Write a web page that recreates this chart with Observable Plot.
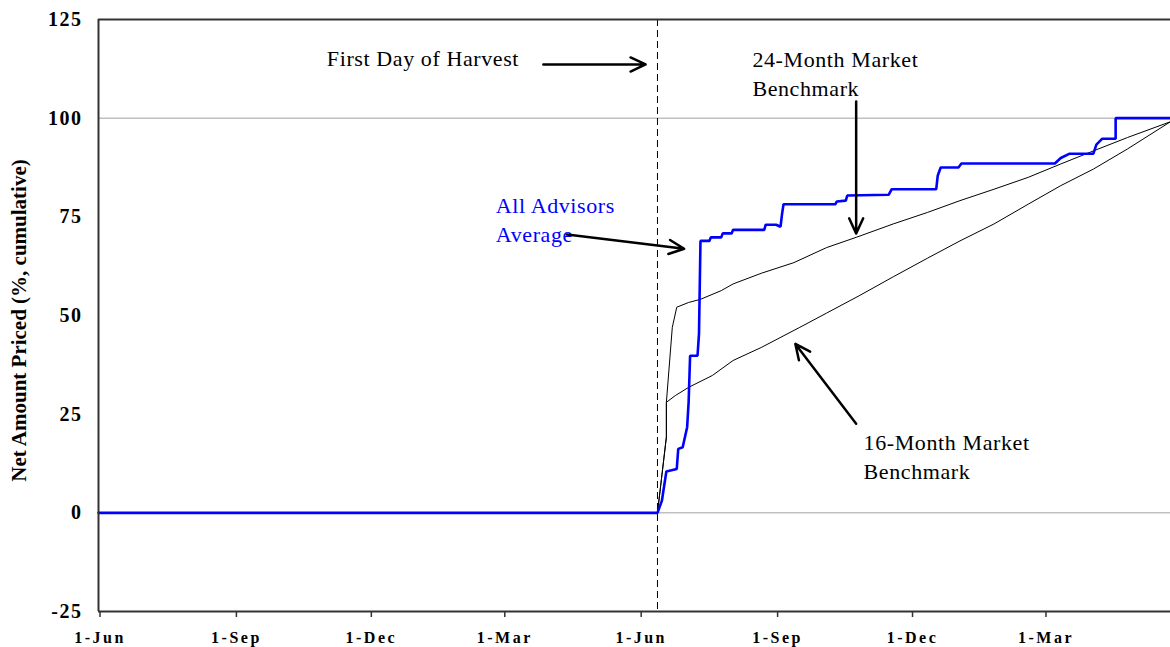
<!DOCTYPE html>
<html>
<head>
<meta charset="utf-8">
<script src="https://cdn.jsdelivr.net/npm/d3@7"></script>
<script src="https://cdn.jsdelivr.net/npm/@observablehq/plot@0.6"></script>
<style>
  body { margin: 0; background: #fff; }
  #chart svg { display: block; }
</style>
</head>
<body>
<div id="chart"></div>
<script>
// ---- Data ----
const startDate = "2000-06-01";
const endDate = "2002-05-25";
const harvestDate = "2001-06-13";

const tickDates = ["2000-06-01", "2000-09-01", "2000-12-01", "2001-03-01", "2001-06-01", "2001-09-01", "2001-12-01", "2002-03-01"];
const tickLabels = ["1-Jun", "1-Sep", "1-Dec", "1-Mar", "1-Jun", "1-Sep", "1-Dec", "1-Mar"];
const yTicks = [-25, 0, 25, 50, 75, 100, 125];
const yTickLabels = ["-25", "0", "25", "50", "75", "100", "125"];

const advisorDates = ["2000-06-01", "2001-06-13", "2001-06-16", "2001-06-17", "2001-06-19", "2001-06-26", "2001-06-27", "2001-06-30", "2001-07-03", "2001-07-04", "2001-07-05", "2001-07-10", "2001-07-11", "2001-07-12", "2001-07-18", "2001-07-19", "2001-07-26", "2001-07-27", "2001-08-02", "2001-08-03", "2001-08-24", "2001-08-25", "2001-09-01", "2001-09-04", "2001-09-05", "2001-09-06", "2001-10-11", "2001-10-12", "2001-10-18", "2001-10-19", "2001-11-16", "2001-11-18", "2001-12-18", "2001-12-19", "2001-12-21", "2002-01-02", "2002-01-04", "2002-03-08", "2002-03-12", "2002-03-18", "2002-04-03", "2002-04-05", "2002-04-09", "2002-04-18", "2002-04-18", "2002-05-25"];
const advisorValues = [0, 0, 3.1, 5.6, 10.5, 11.1, 16.2, 16.6, 21.7, 28.0, 39.8, 39.8, 45.4, 68.9, 68.9, 69.8, 69.8, 70.8, 70.8, 71.7, 71.7, 73.0, 73.0, 72.5, 75.7, 78.2, 78.2, 78.9, 79.1, 80.4, 80.6, 82.0, 82.0, 85.4, 87.5, 87.5, 88.5, 88.5, 89.9, 91.0, 91.0, 93.3, 94.8, 94.8, 100, 100];

const bench24Dates = ["2000-06-01", "2001-06-13", "2001-06-19", "2001-06-19", "2001-06-23", "2001-06-26", "2001-07-04", "2001-07-12", "2001-07-26", "2001-08-03", "2001-08-22", "2001-09-13", "2001-10-05", "2001-10-25", "2001-11-19", "2001-12-12", "2002-01-03", "2002-01-26", "2002-02-18", "2002-03-12", "2002-04-03", "2002-04-26", "2002-05-25"];
const bench24Values = [0, 0, 19.2, 28.0, 47.0, 52.1, 53.3, 54.1, 56.3, 58.0, 60.7, 63.4, 67.2, 69.8, 73.2, 76.1, 79.1, 82.0, 85.0, 88.4, 91.7, 95.1, 99.1];

const bench16Dates = ["2000-06-01", "2001-06-13", "2001-06-19", "2001-06-19", "2001-06-25", "2001-07-04", "2001-07-20", "2001-08-03", "2001-08-22", "2001-09-17", "2001-10-05", "2001-10-27", "2001-11-19", "2001-12-12", "2002-01-03", "2002-01-26", "2002-02-18", "2002-03-12", "2002-04-03", "2002-04-26", "2002-05-25"];
const bench16Values = [0, 0, 19.2, 28.0, 29.7, 31.8, 34.8, 38.6, 41.9, 47.0, 50.6, 55.0, 59.8, 64.5, 68.9, 73.2, 78.2, 82.9, 87.1, 92.2, 99.1];

const noteTexts = ["First Day of Harvest", "24-Month Market\nBenchmark", "All Advisors\nAverage", "16-Month Market\nBenchmark"];
const noteDates = ["2000-11-02", "2001-08-16", "2001-02-24", "2001-10-30"];
const noteValues = [118.3, 118.0, 81.0, 21.0];
const noteColors = ["#000000", "#000000", "#0000ff", "#000000"];

const arrowFromDates = ["2001-03-28", "2001-10-25", "2001-04-13", "2001-10-25"];
const arrowFromValues = [113.6, 104.2, 70.5, 22.6];
const arrowToDates = ["2001-06-05", "2001-10-25", "2001-07-01", "2001-09-14"];
const arrowToValues = [113.6, 70.8, 66.9, 42.8];

const yTitle = "Net Amount Priced (%, cumulative)";

// ---- Build tables ----
const parse = d3.utcParse("%Y-%m-%d");
const rows = (dates, values) => dates.map((d, i) => ({date: parse(d), value: values[i]}));
const advisors = rows(advisorDates, advisorValues);
const bench24 = rows(bench24Dates, bench24Values);
const bench16 = rows(bench16Dates, bench16Values);
const notes = noteTexts.map((t, i) => ({text: t, date: parse(noteDates[i]), value: noteValues[i], color: noteColors[i]}));
const arrows = arrowFromDates.map((d, i) => ({x1: parse(d), y1: arrowFromValues[i], x2: parse(arrowToDates[i]), y2: arrowToValues[i]}));
const labelMap = new Map(tickDates.map((d, i) => [+parse(d), tickLabels[i]]));
const yLabelMap = new Map(yTicks.map((v, i) => [v, yTickLabels[i]]));

const serif = "'Liberation Serif', 'Times New Roman', Times, serif";
const axisColor = "#333333";

const chart = Plot.plot({
  width: 1170,
  height: 647,
  marginLeft: 98,
  marginRight: 0,
  marginTop: 19,
  marginBottom: 36,
  style: {fontFamily: serif, background: "#ffffff", color: "#000000", overflow: "visible"},
  x: {type: "utc", domain: [parse(startDate), parse(endDate)]},
  y: {domain: [-25, 125]},
  marks: [
    Plot.ruleY([0, 100], {stroke: "#a0a0a0", strokeWidth: 1}),
    Plot.ruleX([parse(harvestDate)], {stroke: "#000000", strokeWidth: 1, strokeDasharray: "7,4"}),
    Plot.line(bench16, {x: "date", y: "value", stroke: "#000000", strokeWidth: 1}),
    Plot.line(bench24, {x: "date", y: "value", stroke: "#000000", strokeWidth: 1}),
    Plot.line(advisors, {x: "date", y: "value", stroke: "#0000ff", strokeWidth: 2.6, strokeLinejoin: "miter"}),
    Plot.ruleX([parse(startDate)], {stroke: axisColor, strokeWidth: 2}),
    Plot.ruleY([125, -25], {stroke: axisColor, strokeWidth: 2}),
    Plot.axisX(tickDates.map(parse), {
      tickSize: 6, tickPadding: 14, stroke: axisColor, strokeWidth: 1.5,
      tickFormat: d => labelMap.get(+d), fontSize: 16, fontWeight: "bold", dx: 1.5, label: null
    }),
    Plot.axisY(yTicks, {
      tickSize: 0, tickPadding: 16, fontSize: 20, fontWeight: "bold", label: null,
      tickFormat: v => yLabelMap.get(v)
    }),
    Plot.text([yTitle], {
      frameAnchor: "left", dx: -79, dy: 5, rotate: -90, text: d => d,
      fontSize: 21, fontWeight: "bold", textAnchor: "middle", lineAnchor: "middle"
    }),
    Plot.text(notes, {
      x: "date", y: "value", text: "text", fill: "color",
      textAnchor: "start", lineAnchor: "top", fontSize: 22, lineHeight: 1.3
    }),
    Plot.arrow(arrows, {
      x1: "x1", y1: "y1", x2: "x2", y2: "y2",
      stroke: "#000000", strokeWidth: 2.5, headLength: 10, headAngle: 50
    })
  ]
});

document.getElementById("chart").appendChild(chart);

// letter spacing to mimic the original's wide type
chart.querySelectorAll('g[aria-label="x-axis tick label"]').forEach(g => g.setAttribute("letter-spacing", "2.5"));
chart.querySelectorAll('g[aria-label="y-axis tick label"]').forEach(g => g.setAttribute("letter-spacing", "1.5"));
chart.querySelectorAll('g[aria-label="text"]').forEach(g => {
  if (g.getAttribute("font-size") === "22") g.setAttribute("letter-spacing", "0.6");
});
</script>
</body>
</html>
